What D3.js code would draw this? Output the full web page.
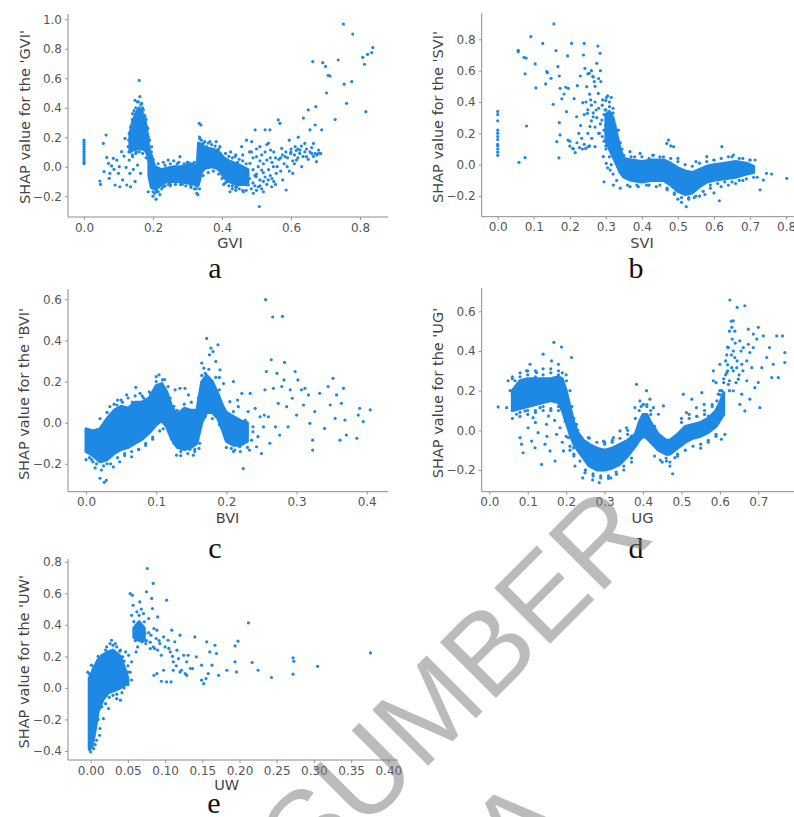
<!DOCTYPE html>
<html>
<head>
<meta charset="utf-8">
<script src="https://cdn.jsdelivr.net/npm/d3@7"></script>
<style>
  body { margin: 0; background: #fff; }
  svg { display: block; }
  .tick text { font-family: "DejaVu Sans", sans-serif; font-size: 12px; fill: #555; }
  .tick line { stroke: #999; }
  .spine { stroke: #8c8c8c; stroke-width: 1; }
  .ylab, .xlab { font-family: "DejaVu Sans", sans-serif; font-size: 14.5px; fill: #444; }
  .letter { font-family: "Liberation Serif", "Times New Roman", serif; font-size: 30px; fill: #111; }
</style>
</head>
<body>
<svg id="chart" width="794" height="817"></svg>
<script>
// ---- data (feature value, SHAP value) ----
// dense clouds are kept as envelopes [x, low, high]; sparse dots as [x, y]

const gviTicksX = [0, 0.2, 0.4, 0.6, 0.8];
const gviTicksY = [-0.2, 0, 0.2, 0.4, 0.6, 0.8, 1.0];
const gviCores = [
  [[0.133,0.1,0.22],[0.14,0.11,0.3],[0.15,0.12,0.36],[0.16,0.12,0.4],[0.17,0.12,0.36],[0.178,0.11,0.3],[0.184,0.08,0.22],[0.188,0.04,0.12]],
  [[0.188,-0.06,0.1],[0.195,-0.14,0.08],[0.205,-0.15,0.0],[0.215,-0.14,-0.01],[0.225,-0.12,-0.02],[0.24,-0.1,-0.01],[0.26,-0.1,0.0],
   [0.28,-0.1,0.0],[0.3,-0.11,0.01],[0.32,-0.12,0.01],[0.328,-0.13,0.0],[0.332,-0.12,0.16],[0.34,-0.04,0.15],[0.35,-0.01,0.13],
   [0.37,0.0,0.12],[0.385,-0.01,0.11],[0.395,-0.03,0.09],[0.405,-0.07,0.06],[0.42,-0.1,0.04],[0.44,-0.12,0.02],[0.46,-0.12,0.0],[0.475,-0.12,-0.02]]
];
const gviPoints = [
  [0,0.18],[0,0.165],[0,0.15],[0,0.135],[0,0.12],[0,0.105],[0,0.09],[0,0.075],[0,0.06],[0,0.045],[0,0.03],[0,0.02],
  [0.046,-0.097],[0.048,-0.12],[0.056,0.158],[0.058,-0.034],[0.064,0.215],[0.066,0.063],[0.071,0.023],[0.073,-0.079],[0.075,-0.045],
  [0.08,0.005],[0.085,0.057],[0.087,-0.018],[0.09,-0.124],[0.095,0.045],[0.1,-0.045],[0.102,0],[0.104,-0.136],[0.109,0.102],
  [0.112,-0.09],[0.116,0.072],[0.119,0.192],[0.122,-0.005],[0.124,-0.124],[0.128,0.136],[0.131,0.045],[0.133,-0.045],[0.135,-0.136],
  [0.138,0.147],[0.141,0.068],[0.143,-0.018],[0.145,0.2],[0.148,-0.1],[0.151,0.1],[0.153,0.26],[0.155,0.011],[0.157,0.158],
  [0.162,0.317],[0.164,-0.045],
  [0.16,0.585],[0.148,0.45],[0.162,0.475],[0.155,0.44],[0.167,0.43],[0.141,0.36],[0.172,0.385],[0.177,0.34],[0.182,0.27],
  [0.186,0.2],[0.196,0.136],[0.135,0.27],[0.131,0.226],
  [0.13,0.18],[0.135,0.24],[0.14,0.32],[0.145,0.38],[0.15,0.4],[0.158,0.44],[0.165,0.42],[0.17,0.4],[0.175,0.35],[0.18,0.32],
  [0.185,0.26],[0.19,0.18],[0.13,0.1],[0.14,0.08],[0.15,0.09],[0.16,0.1],[0.17,0.09],[0.18,0.06],
  [0.186,-0.17],[0.2,-0.2],[0.209,-0.22],[0.21,-0.16],[0.22,-0.19],[0.23,-0.136],[0.244,0.045],[0.278,0.068],[0.307,0.023],
  [0.327,-0.18],[0.298,-0.09],[0.259,-0.1],
  [0.19,0.12],[0.195,0.1],[0.2,0.05],[0.2,-0.17],[0.205,-0.18],[0.215,-0.17],[0.225,-0.15],[0.235,-0.13],[0.25,-0.12],
  [0.265,-0.12],[0.28,-0.12],[0.295,-0.13],[0.31,-0.13],[0.32,-0.15],[0.235,0.01],[0.25,0.02],[0.275,0.03],[0.3,0.03],[0.315,0.02],
  [0.334,0.294],[0.339,0.283],[0.336,0.19],[0.33,-0.19],[0.346,0.158],[0.365,0.17],[0.383,0.17],[0.394,0.136],[0.355,0.136],
  [0.335,-0.15],[0.335,0.2],[0.34,0.18],[0.35,0.17],[0.36,0.16],[0.37,0.15],[0.38,0.14],[0.39,0.12],[0.345,-0.06],[0.36,-0.04],
  [0.375,-0.03],[0.39,-0.05],[0.4,-0.08],[0.41,-0.11],[0.42,-0.13],[0.43,-0.15],[0.44,-0.14],[0.45,0.05],[0.42,0.07],[0.46,-0.16],
  [0.21,-0.17],[0.215,0.02],[0.23,0.03],[0.25,-0.13],[0.27,0.02],[0.285,-0.12],[0.3,0.03],[0.31,-0.14],[0.32,0.03],[0.26,0.04],
  [0.245,-0.12],[0.29,0.02],[0.325,-0.15],
  [0.41,0.09],[0.43,0.06],[0.45,-0.15],[0.47,-0.16],[0.49,-0.02],[0.5,-0.16],[0.52,-0.1],[0.46,0.04],[0.44,0.08],
  [0.405,-0.12],[0.415,0.03],[0.42,-0.06],[0.425,0.1],[0.43,-0.13],[0.435,-0.02],[0.44,-0.16],[0.445,0.03],[0.45,-0.08],
  [0.455,-0.12],[0.46,0.08],[0.465,-0.1],[0.47,0.02],[0.475,-0.05],[0.48,0.1],[0.485,-0.15],[0.49,0.06],[0.495,-0.06],[0.5,0.12],
  [0.505,0.0],[0.51,-0.13],[0.515,0.08],[0.52,0.02],[0.525,-0.07],[0.53,0.15],[0.535,-0.02],[0.54,0.06],[0.545,-0.08],[0.55,0.1],
  [0.555,-0.12],
  [0.414,-0.1],[0.423,-0.17],[0.433,-0.09],[0.438,0.068],[0.443,-0.136],[0.452,0.0],[0.457,0.136],[0.462,-0.17],[0.467,-0.045],
  [0.471,0.18],[0.476,-0.124],[0.481,0.023],[0.486,0.17],[0.491,-0.18],[0.496,0.25],[0.499,-0.068],[0.5,0.068],[0.505,-0.136],
  [0.508,-0.27],[0.51,0.136],[0.515,-0.023],[0.52,-0.17],[0.525,0.25],[0.53,0.045],[0.534,-0.09],[0.539,0.25],[0.541,0.113],
  [0.544,-0.136],[0.549,0.0],[0.557,-0.045],[0.563,0.317],[0.568,0.294],[0.573,0.124],[0.576,-0.09],[0.583,0.068],[0.586,-0.158],
  [0.589,0.0],[0.595,0.18],[0.599,0.09],[0.605,-0.045],[0.612,0.136],[0.616,0.045],[0.621,0.2],[0.626,0.113],[0.631,0.0],
  [0.636,0.33],[0.64,0.158],[0.645,0.068],[0.65,0.385],[0.655,0.25],[0.66,0.09],[0.663,0.713],[0.665,0.158],[0.67,0.283],
  [0.672,0.407],[0.674,0.034],[0.68,0.113],[0.686,0.09],[0.689,0.25],[0.692,0.706],[0.7,0.68],[0.703,0.5],[0.708,0.62],
  [0.713,0.615],[0.728,0.32],[0.737,0.724],[0.752,0.968],[0.754,0.56],[0.761,0.43],[0.776,0.577],[0.779,0.9],[0.808,0.742],
  [0.813,0.695],[0.817,0.373],[0.822,0.762],[0.834,0.774],[0.837,0.808],
  [0.56,0.0],[0.565,0.05],[0.57,-0.03],[0.575,0.08],[0.58,0.02],[0.59,0.06],[0.595,-0.03],[0.6,0.1],[0.605,0.04],[0.61,0.08],
  [0.615,0.11],[0.62,0.06],[0.625,0.09],[0.63,0.14],[0.635,0.07],[0.64,0.1],[0.645,0.12],[0.65,0.05],[0.655,0.1],[0.66,0.13],
  [0.665,0.07],[0.67,0.09],[0.675,0.08],[0.68,0.09],[0.6,0.12],[0.61,0.02],[0.62,0.12],[0.585,0.1],[0.57,0.06],
  [0.48,-0.08],[0.49,-0.11],[0.5,-0.05],[0.51,-0.09],[0.52,-0.04],[0.53,-0.12],[0.54,-0.06],[0.55,-0.1],[0.485,0.1],[0.51,0.04],
  [0.525,0.1],[0.545,0.03],[0.555,0.06],[0.535,0.16],[0.495,-0.13],[0.515,-0.15]
];

const sviTicksX = [0, 0.1, 0.2, 0.3, 0.4, 0.5, 0.6, 0.7, 0.8];
const sviTicksY = [-0.2, 0, 0.2, 0.4, 0.6, 0.8];
const sviCores = [
  [[0.3,0.15,0.32],[0.31,0.1,0.34],[0.32,0.05,0.3],[0.33,0.0,0.2],[0.34,-0.05,0.1],[0.35,-0.08,0.04],[0.37,-0.1,0.03],
   [0.4,-0.11,0.02],[0.43,-0.1,0.03],[0.46,-0.1,0.03],[0.48,-0.13,0.01],[0.5,-0.17,-0.02],[0.52,-0.19,-0.04],[0.54,-0.18,-0.05],
   [0.56,-0.14,-0.03],[0.58,-0.11,-0.01],[0.6,-0.1,0.0],[0.63,-0.09,0.01],[0.66,-0.08,0.02],[0.69,-0.06,0.01],[0.71,-0.05,-0.01]]
];
const sviPoints = [
  [0,0.34],[0,0.32],[0,0.28],[0,0.22],[0,0.2],[0,0.18],[0,0.16],[0,0.13],[0,0.12],[0,0.1],[0,0.08],[0,0.06],
  [0.057,0.73],[0.057,0.72],[0.073,0.685],[0.079,0.68],[0.076,0.58],[0.08,0.247],[0.076,0.045],[0.059,0.015],[0.092,0.817],
  [0.104,0.643],[0.106,0.49],[0.125,0.774],[0.136,0.594],[0.138,0.587],[0.133,0.515],[0.148,0.551],[0.154,0.385],[0.156,0.898],
  [0.162,0.728],[0.164,0.147],[0.167,0.626],[0.171,0.566],[0.173,0.487],[0.171,0.268],[0.173,0.19],[0.17,0.043],[0.178,0.42],
  [0.184,0.451],[0.189,0.494],[0.194,0.694],[0.196,0.487],[0.191,0.338],[0.195,0.157],[0.2,0.119],[0.205,0.774],[0.208,0.104],
  [0.212,0.421],[0.215,0.077],[0.219,0.306],[0.221,0.504],[0.227,0.109],[0.229,0.566],[0.233,0.168],[0.236,0.396],[0.238,0.7],
  [0.24,0.774],[0.242,0.615],[0.244,0.104],[0.247,0.498],[0.249,0.328],[0.251,0.115],[0.254,0.583],[0.256,0.243],[0.258,0.413],
  [0.261,0.168],[0.264,0.562],[0.265,0.306],[0.268,0.53],[0.27,0.115],[0.273,0.349],[0.275,0.647],[0.278,0.757],[0.279,0.455],
  [0.282,0.2],[0.284,0.711],[0.286,0.53],[0.289,0.285],[0.291,0.413],[0.293,0.051],[0.295,-0.109],[0.298,0.349],[0.301,0.009],
  [0.302,0.43],[0.307,0.2],[0.312,-0.034],
  [0.26,0.38],[0.265,0.33],[0.27,0.4],[0.275,0.3],[0.28,0.36],[0.285,0.26],[0.29,0.38],[0.295,0.22],[0.3,0.41],[0.305,0.44],
  [0.31,0.4],[0.315,0.43],[0.32,0.36],[0.29,0.18],[0.28,0.2],[0.27,0.24],[0.26,0.28],[0.25,0.35],[0.245,0.4],[0.24,0.32],
  [0.255,0.45],[0.265,0.56],[0.27,0.5],[0.28,0.55],[0.285,0.6],[0.25,0.58],[0.26,0.6],[0.23,0.25],[0.225,0.2],[0.22,0.14],
  [0.21,0.1],[0.2,0.15],[0.235,0.1],[0.24,0.13],[0.25,0.2],[0.255,0.12],[0.3,0.1],[0.31,0.05],[0.305,-0.02],[0.315,0.0],
  [0.32,-0.06],[0.33,-0.1],[0.3,0.25],[0.31,0.2],[0.295,0.32],
  [0.3,0.35],[0.31,0.37],[0.32,0.33],[0.325,0.25],[0.335,0.22],[0.34,0.14],[0.345,0.1],[0.3,0.12],[0.295,0.15],
  [0.35,0.06],[0.37,0.05],[0.4,0.05],[0.43,0.06],[0.46,0.05],[0.48,0.04],[0.5,0.02],[0.52,0.0],[0.54,-0.01],[0.56,0.01],
  [0.58,0.02],[0.6,0.03],[0.62,0.04],[0.65,0.05],[0.68,0.04],[0.7,0.03],
  [0.36,-0.13],[0.39,-0.14],[0.42,-0.13],[0.45,-0.13],[0.47,-0.15],[0.49,-0.18],[0.51,-0.21],[0.53,-0.21],[0.55,-0.2],
  [0.57,-0.17],[0.59,-0.13],[0.61,-0.12],[0.63,-0.11],[0.65,-0.11],[0.67,-0.1],[0.69,-0.09],[0.71,-0.08],
  [0.474,0.157],[0.48,0.12],[0.523,-0.268],[0.746,-0.055],[0.76,-0.06],[0.802,-0.087],[0.728,-0.16],[0.737,-0.098],[0.714,0.03],
  [0.7,-0.034],[0.321,-0.13],[0.34,-0.15],[0.367,-0.14],[0.386,-0.13],[0.413,-0.13],[0.367,0.083],[0.395,0.072],[0.432,0.062],
  [0.469,0.136],[0.488,0.115],[0.622,0.115],[0.58,0.051],[0.654,0.062],
  [0.5,-0.22],[0.51,-0.24],[0.53,-0.22],[0.545,-0.21],[0.56,-0.2],[0.575,-0.19],[0.6,-0.18],[0.615,-0.23],[0.59,-0.15],
  [0.62,-0.14],[0.64,-0.13],[0.66,-0.12],[0.68,-0.1],[0.72,-0.08],[0.45,0.05],[0.5,0.04],[0.55,0.02],[0.6,0.03],[0.64,0.05],
  [0.67,0.04],[0.7,0.03],[0.42,0.04],[0.38,0.05],[0.44,-0.14],[0.47,-0.16],[0.49,-0.19]
];

const bviTicksX = [0, 0.1, 0.2, 0.3, 0.4];
const bviTicksY = [-0.2, 0, 0.2, 0.4, 0.6];
const bviCores = [
  [[0.0,-0.14,-0.03],[0.01,-0.16,-0.04],[0.02,-0.19,-0.03],[0.03,-0.18,0.02],[0.04,-0.15,0.06],[0.05,-0.13,0.08],
   [0.06,-0.12,0.07],[0.07,-0.1,0.1],[0.08,-0.08,0.1],[0.09,-0.05,0.12],[0.1,-0.01,0.18],[0.108,0.01,0.19],[0.115,-0.02,0.15],
   [0.122,-0.08,0.08],[0.13,-0.12,0.04],[0.14,-0.13,0.07],[0.15,-0.12,0.06],[0.158,-0.1,0.06],[0.165,0.0,0.2],[0.172,0.05,0.23],
   [0.18,0.05,0.2],[0.188,0.02,0.14],[0.195,-0.04,0.08],[0.2,-0.09,0.05],[0.21,-0.11,0.03],[0.22,-0.11,0.01],[0.23,-0.09,0.0]]
];
const bviPoints = [
  [0,-0.18],[0.02,-0.27],[0.026,-0.29],[0.029,-0.28],[0.013,-0.22],[0.022,-0.23],[0.039,-0.215],[0.048,-0.19],[0.065,-0.166],
  [0.034,0.078],[0.044,0.086],[0.058,0.135],[0.071,0.172],[0.077,0.143],[0.086,0.11],[0.1,0.224],[0.109,0.208],[0.104,0.233],
  [0.117,0.175],[0.124,0.013],[0.127,0.16],[0.134,0.167],[0.141,0.167],[0.146,0.135],[0.129,-0.158],[0.143,-0.125],[0.153,-0.158],
  [0.161,-0.125],[0.165,0.29],[0.168,0.265],[0.172,0.41],[0.176,0.33],[0.178,0.363],[0.181,0.346],[0.185,0.298],[0.188,0.379],
  [0.191,0.257],[0.196,0.19],[0.205,0.102],[0.21,0.2],[0.212,-0.133],[0.217,0.078],[0.22,-0.02],[0.224,-0.223],[0.229,-0.044],
  [0.231,0.054],[0.234,0.143],[0.236,-0.085],[0.238,-0.02],[0.241,0.07],[0.243,-0.117],[0.245,-0.068],[0.248,0.029],[0.25,-0.15],
  [0.253,-0.02],[0.254,0.037],[0.255,0.16],[0.256,0.598],[0.257,0.249],[0.26,0.029],[0.262,-0.1],[0.264,0.306],[0.266,0.514],
  [0.267,0.167],[0.27,-0.02],[0.272,0.24],[0.274,0.094],[0.276,-0.06],[0.279,0.176],[0.28,0.517],[0.282,0.208],[0.283,0.293],
  [0.286,0.078],[0.288,-0.02],[0.291,0.16],[0.294,0.119],[0.298,0.249],[0.3,0.037],[0.302,0.208],[0.307,0.16],[0.31,0.086],
  [0.312,0.167],[0.317,0.135],[0.319,-0.003],[0.323,-0.085],[0.323,-0.133],[0.326,0.054],[0.333,0.143],[0.34,-0.028],[0.345,0.176],
  [0.348,0.086],[0.352,0.216],[0.355,0.021],[0.357,0.135],[0.362,-0.085],[0.364,0.094],[0.367,0.167],[0.369,0.013],[0.371,-0.06],
  [0.386,-0.076],[0.388,0.037],[0.39,0.07],[0.395,0.005],[0.405,0.062],
  [0.2,0.013],[0.205,-0.068],[0.21,0.054],[0.215,-0.036],[0.219,-0.117],[0.227,0.013],[0.233,-0.133],[0.238,-0.044],[0.207,-0.125],
  [0.216,0.11],[0.222,0.143],
  [0.045,0.11],[0.052,0.1],[0.066,0.1],[0.082,0.12],[0.092,0.14],[0.118,-0.04],[0.125,-0.1],[0.135,-0.14],[0.148,-0.13],
  [0.155,-0.14],[0.008,-0.18],[0.03,-0.2],[0.055,-0.15],[0.075,-0.13],[0.085,-0.1],[0.095,-0.07],[0.16,0.06],[0.17,0.24],[0.19,0.22],
  [0.005,-0.17],[0.01,-0.19],[0.015,-0.2],[0.025,-0.21],[0.035,-0.2],[0.045,-0.17],[0.055,-0.16],[0.065,-0.14],[0.075,-0.13],
  [0.085,-0.11],[0.095,-0.08],[0.105,-0.04],[0.11,-0.03],[0.02,0.02],[0.03,0.05],[0.04,0.09],[0.05,0.11],[0.06,0.12],[0.07,0.13],
  [0.08,0.13],[0.09,0.15],[0.1,0.2],[0.112,0.21],[0.12,0.12],[0.125,0.08],[0.13,0.06],[0.14,0.09],[0.15,0.1],[0.16,0.12],
  [0.165,0.23],[0.175,0.26],[0.185,0.22],[0.19,0.16],[0.135,-0.16],[0.145,-0.15],[0.155,-0.13],[0.162,-0.1],[0.17,0.03],
  [0.18,0.02],[0.19,-0.01],[0.2,-0.12],[0.21,-0.14],[0.22,-0.14],[0.23,-0.12]
];

const ugTicksX = [0, 0.1, 0.2, 0.3, 0.4, 0.5, 0.6, 0.7];
const ugTicksY = [-0.2, 0, 0.2, 0.4, 0.6];
const ugCores = [
  [[0.06,0.1,0.2],[0.08,0.11,0.25],[0.1,0.12,0.26],[0.12,0.13,0.26],[0.14,0.14,0.26],[0.16,0.15,0.26],[0.18,0.14,0.27],
   [0.19,0.1,0.26],[0.2,0.04,0.2],[0.21,-0.02,0.12],[0.22,-0.07,0.04],[0.23,-0.1,-0.01],[0.245,-0.14,-0.05],[0.26,-0.18,-0.07],
   [0.28,-0.2,-0.09],[0.3,-0.2,-0.1],[0.32,-0.19,-0.09],[0.34,-0.17,-0.07],[0.36,-0.13,-0.05],[0.38,-0.08,-0.02],[0.39,-0.05,0.04],
   [0.4,-0.03,0.08],[0.41,-0.04,0.08],[0.42,-0.06,0.04],[0.44,-0.1,-0.02],[0.46,-0.12,-0.05],[0.47,-0.12,-0.05],[0.49,-0.09,-0.02],
   [0.51,-0.06,0.02],[0.53,-0.04,0.03],[0.55,-0.03,0.04],[0.57,-0.01,0.06],[0.59,0.02,0.1],[0.6,0.05,0.14],[0.61,0.08,0.19]]
];
const ugPoints = [
  [0.023,0.118],[0.045,0.114],[0.049,0.25],[0.054,0.2],[0.061,0.157],[0.067,0.25],[0.071,0.081],[0.075,0.215],[0.08,-0.037],
  [0.084,-0.07],[0.088,-0.113],[0.093,0.098],[0.097,0.3],[0.101,0.013],[0.106,0.333],[0.11,-0.054],[0.114,0.064],[0.119,-0.088],
  [0.123,0.291],[0.127,-0.012],[0.132,0.114],[0.136,-0.172],[0.14,0.384],[0.145,-0.07],[0.149,0.03],[0.154,0.072],[0.158,-0.104],
  [0.162,0.35],[0.168,0.443],[0.171,-0.155],[0.175,-0.02],[0.18,0.333],[0.184,0.013],[0.188,0.42],[0.193,-0.104],[0.197,0.047],
  [0.201,0.25],[0.206,-0.037],[0.214,0.367],[0.219,-0.088],[0.223,-0.18],[0.227,0.03],[0.236,-0.155],[0.243,-0.24],[0.249,-0.214],
  [0.258,-0.037],[0.269,-0.25],[0.275,-0.088],[0.286,-0.264],[0.297,-0.054],[0.31,-0.242],[0.316,-0.24],[0.323,-0.037],
  [0.331,-0.222],[0.34,-0.003],[0.357,0.013],[0.37,-0.029],[0.379,0.114],[0.383,0.232],[0.392,0.148],[0.401,0.131],[0.409,0.2],
  [0.418,0.157],[0.427,0.114],[0.44,0.081],[0.453,0.123],[0.461,-0.155],[0.477,-0.219],[0.483,-0.138],[0.505,0.182],[0.513,0.089],
  [0.527,0.157],[0.539,0.114],[0.553,0.19],[0.559,0.131],[0.57,0.072],[0.583,0.25],[0.592,0.148],[0.596,0.182],[0.6,0.333],
  [0.604,-0.045],[0.613,-0.02],[0.583,0.3],[0.626,0.657],[0.645,0.62],[0.665,0.628],[0.635,0.552],[0.639,0.5],[0.631,0.519],
  [0.652,0.451],[0.674,0.51],[0.661,0.417],[0.678,0.392],[0.67,0.35],[0.687,0.417],[0.696,0.46],[0.7,0.519],[0.713,0.476],
  [0.722,0.367],[0.729,0.417],[0.735,0.266],[0.748,0.476],[0.763,0.476],[0.769,0.392],[0.769,0.342],[0.752,0.266],[0.739,0.333],
  [0.709,0.316],[0.704,0.114],[0.7,0.241],[0.691,0.215],[0.683,0.316],[0.67,0.25],[0.657,0.182],[0.648,0.258],[0.635,0.199],
  [0.631,0.316],[0.622,0.232],[0.665,0.098],[0.678,0.157],[0.652,0.131],[0.639,0.367],[0.635,0.4],[0.622,0.417],[0.618,0.291],
  [0.644,0.316],[0.657,0.333],[0.674,0.434],[0.687,0.485],
  [0.06,0.26],[0.08,0.27],[0.1,0.28],[0.12,0.27],[0.14,0.28],[0.16,0.29],[0.18,0.28],[0.2,0.28],[0.06,0.1],[0.08,0.09],
  [0.1,0.1],[0.12,0.1],[0.14,0.12],[0.16,0.1],[0.18,0.12],[0.12,0.04],[0.15,-0.03],[0.17,0.05],[0.19,-0.06],[0.2,0.08],
  [0.21,-0.1],[0.22,-0.13],[0.25,-0.2],[0.27,-0.22],[0.29,-0.23],[0.3,-0.06],[0.32,-0.05],[0.35,-0.2],[0.37,-0.16],[0.36,0.0],
  [0.38,0.06],[0.395,0.12],[0.41,0.13],[0.42,0.1],[0.43,-0.13],[0.45,-0.16],[0.47,-0.18],[0.49,-0.13],[0.5,0.06],[0.52,0.08],
  [0.54,0.07],[0.56,0.1],[0.58,0.13],[0.55,-0.09],[0.57,-0.06],[0.59,-0.03],[0.6,0.2],[0.61,0.26],[0.62,0.33],[0.59,0.24],
  [0.06,0.27],[0.08,0.29],[0.1,0.3],[0.12,0.3],[0.14,0.31],[0.16,0.31],[0.18,0.3],[0.19,0.29],[0.06,0.06],[0.08,0.07],
  [0.1,0.08],[0.12,0.09],[0.14,0.1],[0.16,0.11],[0.18,0.1],
  [0.21,0.2],[0.215,0.12],[0.22,0.06],[0.23,0.0],[0.235,-0.05],[0.2,-0.03],[0.21,-0.08],[0.22,-0.12],
  [0.25,-0.2],[0.27,-0.23],[0.29,-0.24],[0.31,-0.23],[0.33,-0.21],[0.35,-0.18],[0.37,-0.14],[0.26,-0.04],[0.28,-0.06],
  [0.3,-0.07],[0.32,-0.06],[0.34,-0.04],[0.36,-0.02],
  [0.39,0.1],[0.4,0.13],[0.41,0.12],[0.42,0.08],[0.43,0.02],[0.445,-0.15],[0.46,-0.14],[0.47,-0.16],[0.49,-0.12],[0.51,-0.1],
  [0.53,-0.08],[0.55,-0.07],[0.57,-0.05],[0.59,-0.02],[0.5,0.04],[0.52,0.06],[0.54,0.07],[0.56,0.08],[0.58,0.12],[0.6,0.18],
  [0.615,0.35],[0.62,0.42],[0.625,0.5],[0.63,0.55],[0.62,0.3],[0.625,0.25],[0.63,0.38],[0.635,0.3],[0.64,0.44],[0.645,0.35],
  [0.65,0.28],[0.655,0.4],[0.66,0.3],[0.61,0.24],[0.605,0.2],[0.615,0.28],[0.625,0.2],[0.632,0.46],[0.642,0.24],[0.618,0.38]
];

const uwTicksX = [0, 0.05, 0.1, 0.15, 0.2, 0.25, 0.3, 0.35, 0.4];
const uwTicksY = [-0.4, -0.2, 0, 0.2, 0.4, 0.6, 0.8];
const uwCores = [
  [[-0.002,-0.39,0.06],[0.002,-0.37,0.1],[0.004,-0.32,0.13],[0.007,-0.24,0.15],[0.01,-0.15,0.18],[0.017,-0.07,0.21],
   [0.024,-0.03,0.23],[0.03,-0.02,0.24],[0.04,0.0,0.2],[0.046,0.02,0.12],[0.05,0.03,0.06]],
  [[0.058,0.32,0.38],[0.065,0.3,0.42],[0.072,0.3,0.38]]
];
const uwPoints = [
  [0,-0.406],[-0.004,0.1],[-0.002,0.09],[0.001,0.144],[0.008,0.154],[0.015,0.207],[0.0215,0.26],[0.026,0.281],[0.028,0.302],
  [0.033,0.281],[0.035,0.26],[0.039,0.233],[0.043,0.197],[0.047,0.228],[0.035,-0.068],[0.04,-0.078],[0.03,-0.047],[0.024,-0.131],
  [0.017,-0.195],[0.0125,-0.258],[0.008,-0.332],[0.048,0.08],[0.051,0.207],[0.053,0.598],[0.057,0.524],[0.056,0.588],[0.062,0.482],
  [0.066,0.545],[0.064,0.408],[0.069,0.292],[0.071,0.471],[0.073,0.345],[0.075,0.609],[0.078,0.44],[0.08,0.249],[0.076,0.757],
  [0.082,0.567],[0.084,0.662],[0.085,0.376],[0.088,0.313],[0.09,0.45],[0.093,0.281],[0.095,0.207],[0.098,0.323],[0.1,0.26],
  [0.102,0.556],[0.104,0.302],[0.107,0.228],[0.109,0.366],[0.111,0.165],[0.113,0.292],[0.116,0.239],[0.118,0.186],[0.12,0.334],
  [0.122,0.112],[0.125,0.207],[0.127,0.091],[0.129,0.165],[0.131,0.207],[0.134,0.123],[0.137,0.123],[0.095,0.042],[0.102,0.038],
  [0.108,0.038],[0.098,0.112],[0.111,0.112],[0.089,0.091],[0.085,0.08],[0.12,0.101],[0.129,0.08],[0.14,0.323],[0.142,0.197],
  [0.149,0.144],[0.149,0.049],[0.152,0.027],[0.155,0.059],[0.156,0.292],[0.158,0.091],[0.16,0.228],[0.163,0.144],[0.167,0.27],
  [0.169,0.218],[0.172,0.08],[0.183,0.112],[0.194,0.266],[0.194,0.165],[0.196,0.101],[0.198,0.296],[0.212,0.412],[0.217,0.161],
  [0.225,0.112],[0.243,0.066],[0.272,0.19],[0.273,0.169],[0.272,0.087],[0.305,0.137],[0.376,0.222],
  [0.055,0.46],[0.06,0.355],[0.063,0.26],[0.066,0.387],[0.072,0.419],[0.074,0.281],[0.081,0.334],[0.086,0.249],[0.083,0.503],
  [0.089,0.366],[0.061,0.228],[0.055,0.165],[0.05,0.14],[0.053,0.1],[0.045,0.05],[0.042,-0.03],[0.038,0.12],[0.02,0.0],
  [0.012,-0.3],[0.006,-0.36],[0.004,-0.385],
  [0.01,0.2],[0.02,0.24],[0.03,0.27],[0.04,0.24],[0.045,0.17],[0.05,0.1],[0.005,-0.28],[0.01,-0.2],[0.015,-0.12],[0.02,-0.1],
  [0.025,-0.06],[0.035,-0.04],[0.045,0.0],[0.05,0.02],[0.055,0.05],[0.06,0.3],[0.065,0.46],[0.07,0.36],[0.075,0.3],[0.058,0.42],
  [0.068,0.5],[0.078,0.35],[0.08,0.29],[0.084,0.26],[0.09,0.24],[0.092,0.3],[0.105,0.25],[0.11,0.2],[0.115,0.14]
];

const blue = "#1e88e5";

const panels = [
  { feature: "GVI", points: gviPoints, cores: gviCores, tx: gviTicksX, ty: gviTicksY, fmtX: ".1f",
    xDom: [0, 0.8], xRange: [84, 360], yDom: [0, 1], yRange: [166.7, 19.3],
    spineX: [68, 388], spineY: [14, 217], yLab: [25, 117], xLab: [230, 248], letter: "a", letterPos: [215, 278] },
  { feature: "SVI", points: sviPoints, cores: sviCores, tx: sviTicksX, ty: sviTicksY, fmtX: ".1f",
    xDom: [0, 0.7], xRange: [497.7, 750], yDom: [0, 0.8], yRange: [164.7, 39.3],
    spineX: [481.7, 794], spineY: [13, 216.7], yLab: [437.5, 117], xLab: [642, 248], letter: "b", letterPos: [636, 278] },
  { feature: "BVI", points: bviPoints, cores: bviCores, tx: bviTicksX, ty: bviTicksY, fmtX: ".1f",
    xDom: [0, 0.4], xRange: [86, 366.7], yDom: [0, 0.6], yRange: [422.7, 299.3],
    spineX: [68, 388], spineY: [289, 491.7], yLab: [24, 394], xLab: [227.5, 522.5], letter: "c", letterPos: [215, 557.7] },
  { feature: "UG", points: ugPoints, cores: ugCores, tx: ugTicksX, ty: ugTicksY, fmtX: ".1f",
    xDom: [0, 0.7], xRange: [489.3, 758.3], yDom: [-0.2, 0.6], yRange: [470, 311.3],
    spineX: [481.7, 794], spineY: [288, 491.7], yLab: [437.5, 393], xLab: [642.5, 523], letter: "d", letterPos: [636, 557.7] },
  { feature: "UW", points: uwPoints, cores: uwCores, tx: uwTicksX, ty: uwTicksY, fmtX: ".2f",
    xDom: [0, 0.4], xRange: [90.7, 388.3], yDom: [-0.4, 0.8], yRange: [751, 561.7],
    spineX: [68, 398], spineY: [559, 760], yLab: [24, 661.7], xLab: [226.7, 790], letter: "e", letterPos: [214, 813] }
];

const svg = d3.select("#chart");

panels.forEach((p) => {
  const x = d3.scaleLinear().domain(p.xDom).range(p.xRange);
  const y = d3.scaleLinear().domain(p.yDom).range(p.yRange);
  const g = svg.append("g");

  // dense clouds as envelopes, stroked so the edge sits one dot radius out
  const area = d3.area().x((d) => x(d[0])).y0((d) => y(d[1])).y1((d) => y(d[2]));
  g.selectAll("path.core").data(p.cores).join("path")
    .attr("class", "core").attr("d", area)
    .attr("fill", blue).attr("stroke", blue).attr("stroke-width", 3).attr("stroke-linejoin", "round");

  g.selectAll("circle").data(p.points).join("circle")
    .attr("cx", (d) => x(d[0])).attr("cy", (d) => y(d[1])).attr("r", 1.6).attr("fill", blue);

  const ax = g.append("g").attr("transform", `translate(0,${p.spineY[1]})`)
    .call(d3.axisBottom(x).tickValues(p.tx).tickSize(3).tickFormat(d3.format(p.fmtX)));
  ax.select(".domain").remove();
  const ay = g.append("g").attr("transform", `translate(${p.spineX[0]},0)`)
    .call(d3.axisLeft(y).tickValues(p.ty).tickSize(3).tickFormat(d3.format(".1f")));
  ay.select(".domain").remove();

  g.append("line").attr("class", "spine")
    .attr("x1", p.spineX[0]).attr("x2", p.spineX[1]).attr("y1", p.spineY[1]).attr("y2", p.spineY[1]);
  g.append("line").attr("class", "spine")
    .attr("x1", p.spineX[0]).attr("x2", p.spineX[0]).attr("y1", p.spineY[0]).attr("y2", p.spineY[1]);

  g.append("text").attr("class", "ylab")
    .attr("transform", `translate(${p.yLab[0]},${p.yLab[1]}) rotate(-90)`)
    .attr("text-anchor", "middle").attr("dy", "0.35em")
    .text(`SHAP value for the '${p.feature}'`);
  g.append("text").attr("class", "xlab")
    .attr("x", p.xLab[0]).attr("y", p.xLab[1]).attr("text-anchor", "middle")
    .text(p.feature);
  g.append("text").attr("class", "letter")
    .attr("x", p.letterPos[0]).attr("y", p.letterPos[1]).attr("text-anchor", "middle")
    .text(p.letter);
});

// watermark across the lower half
const wm = svg.append("g").attr("fill", "#777").attr("fill-opacity", 0.5)
  .attr("font-family", "Liberation Sans, Arial, sans-serif").attr("font-size", 115);
wm.append("text").attr("transform", "translate(308.6,885.4) rotate(-45)").text("SUMBER");
wm.append("text").attr("transform", "translate(518,882) rotate(-45)").text("A");
</script>
</body>
</html>
